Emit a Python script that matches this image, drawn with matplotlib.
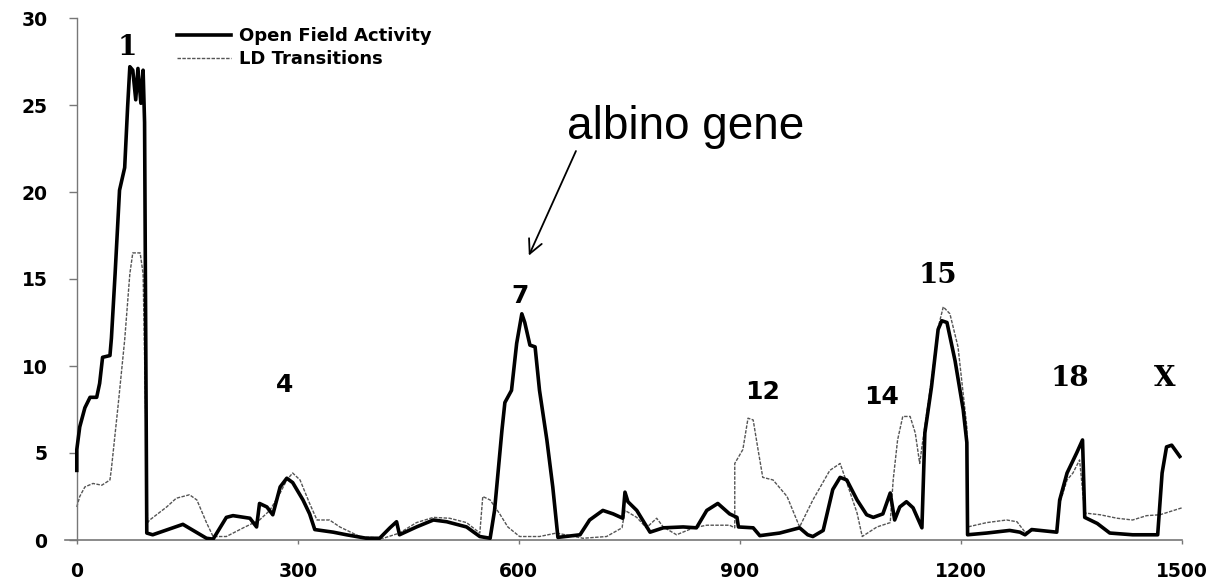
import matplotlib
matplotlib.use("Agg")
import matplotlib.pyplot as plt

# Open Field Activity (koyu siyah cizgi)
ofa_x = [0, 0, 4, 11, 18, 27, 31, 35, 45, 47, 52, 58, 65, 69, 72, 76, 80, 83, 87, 90, 92, 95,
         103, 144, 176, 185, 203, 212, 235, 244, 248, 258, 266, 276, 285, 293, 307, 316, 323,
         348, 366, 393, 411, 425, 434, 438, 461, 484, 502, 529, 547, 561,
         567, 577, 581, 590, 597, 604, 608, 615, 622, 628, 638, 646, 653,
         683, 696, 714, 728, 741, 744, 748, 760, 778, 796, 823, 841, 855, 870, 886, 896, 898,
         918, 927, 954, 981, 992, 999, 1013, 1026, 1036, 1045, 1059, 1072, 1081,
         1094, 1104, 1110, 1117, 1126, 1135, 1147, 1151, 1160, 1169, 1174, 1181, 1192, 1203,
         1208, 1209, 1235, 1266, 1280, 1287, 1296, 1330, 1334, 1344, 1357, 1365, 1368, 1385,
         1402, 1433, 1467, 1473, 1479, 1486, 1497]
ofa_y = [4.0, 5.2, 6.5, 7.6, 8.2, 8.2, 9.0, 10.5, 10.6, 11.6, 15.3, 20.1, 21.4, 24.9, 27.2, 27.0,
         25.3, 27.1, 25.1, 27.0, 24.0, 0.4,
         0.3, 0.9, 0.1, 0.05, 1.3, 1.4, 1.25, 0.75, 2.1, 1.9, 1.45, 3.05, 3.55, 3.3, 2.3, 1.5, 0.6,
         0.45, 0.3, 0.1, 0.1, 0.7, 1.05, 0.3, 0.75, 1.15, 1.05, 0.75, 0.2, 0.1,
         1.7, 6.3, 7.9, 8.6, 11.3, 13.0, 12.5, 11.2, 11.1, 8.6, 5.75, 3.05, 0.15,
         0.3, 1.15, 1.7, 1.5, 1.25, 2.75, 2.2, 1.7, 0.45, 0.7, 0.75, 0.7, 1.7, 2.1, 1.5, 1.3, 0.75,
         0.7, 0.25, 0.4, 0.7, 0.3, 0.2, 0.55, 2.9, 3.6, 3.45, 2.3, 1.45, 1.3,
         1.5, 2.7, 1.15, 1.9, 2.2, 1.85, 0.7, 6.15, 8.8, 12.1, 12.6, 12.5, 10.3, 7.5,
         5.6, 0.3, 0.4, 0.55, 0.45, 0.3, 0.6, 0.45, 2.3, 3.85, 5.0, 5.75, 1.3, 0.95,
         0.4, 0.3, 0.3, 3.85, 5.35, 5.45, 4.8]

# LD Transitions (ince kesikli gri cizgi)
ld_x = [0, 4, 11, 22, 34, 45, 47, 56, 65, 72, 76, 86, 90, 96,
        99, 122, 135, 153, 163, 176, 185, 203, 226, 248, 262, 276, 285, 293, 303, 316, 326,
        343, 357, 384, 416, 438, 461, 484, 506, 529, 547, 551, 561, 574, 585, 601, 628, 651,
        687, 719, 740, 744, 760, 773, 787, 796, 814, 837, 855, 886, 893, 893, 904, 911, 918,
        924, 931, 945, 964, 981, 999, 1022, 1036, 1045, 1059, 1066, 1086, 1104, 1108, 1114,
        1121, 1131, 1138, 1144, 1147, 1160, 1169, 1176, 1185, 1196, 1208, 1209, 1235, 1262,
        1276, 1287, 1298, 1330, 1334, 1344, 1352, 1361, 1368, 1389, 1412, 1433, 1452, 1470, 1500]
ld_y = [1.9, 2.5, 3.05, 3.25, 3.15, 3.45, 4.1, 7.7, 11.5, 15.3, 16.5, 16.5, 15.3, 1.0,
        1.15, 1.9, 2.4, 2.6, 2.3, 1.0, 0.2, 0.2, 0.7, 1.15, 1.7, 2.7, 3.45, 3.85, 3.45, 2.1, 1.15,
        1.15, 0.75, 0.2, 0.1, 0.4, 1.0, 1.3, 1.25, 1.0, 0.4, 2.5, 2.3, 1.5, 0.75, 0.2, 0.2, 0.4,
        0.1, 0.2, 0.7, 1.7, 1.3, 0.7, 1.25, 0.75, 0.3, 0.7, 0.85, 0.85, 0.7, 4.4, 5.2, 7.0, 6.9,
        5.35, 3.6, 3.45, 2.5, 0.75, 2.3, 4.0, 4.4, 3.3, 1.55, 0.2, 0.75, 1.0, 3.45, 5.75,
        7.1, 7.1, 6.15, 4.4, 5.35, 9.2, 12.2, 13.4, 13.0, 11.1, 6.5, 0.75, 1.0, 1.15,
        1.05, 0.45, 0.55, 0.45, 2.1, 3.45, 3.85, 4.6, 1.55, 1.45, 1.25, 1.15, 1.4, 1.45, 1.85]

# Kromozom etiketleri
chr_labels = ["1", "4", "7", "12", "14", "15", "18", "X"]
chr_x = [69, 282, 601, 931, 1092, 1168, 1348, 1476]
chr_y = [28.3, 8.9, 14.0, 8.5, 8.2, 15.2, 9.3, 9.3]
chr_serif = [True, False, False, False, False, True, True, True]

x_ticks = [0, 300, 600, 900, 1200, 1500]
y_ticks = [0, 5, 10, 15, 20, 25, 30]

fig = plt.figure(figsize=(12.21, 5.82), dpi=100)
ax = fig.add_axes([65 / 1221, 42 / 582, (1182 - 65) / 1221, (540 - 18) / 582])

ax.plot(ofa_x, ofa_y, color="black", lw=2.6, label="Open Field Activity", zorder=3)
ax.plot(ld_x, ld_y, color="#555555", lw=1.0, linestyle=(0, (2.5, 1)), label="LD Transitions", zorder=2)

ax.set_xlim(-16, 1500)
ax.set_ylim(0, 30)

for s in ["top", "right"]:
    ax.spines[s].set_visible(False)
ax.spines["left"].set_position(("data", 0))
ax.spines["left"].set_color("#777777")
ax.spines["bottom"].set_color("#777777")
ax.spines["left"].set_linewidth(1.0)
ax.spines["bottom"].set_linewidth(1.2)

ax.set_xticks(x_ticks)
ax.set_yticks(y_ticks)
ax.tick_params(axis="y", direction="out", length=6, width=1, color="#777777", pad=15)
ax.tick_params(axis="x", direction="out", length=3, width=1, color="#777777", pad=13)
for lab in ax.get_xticklabels() + ax.get_yticklabels():
    lab.set_fontfamily("DejaVu Sans")
    lab.set_fontweight("bold")
    lab.set_fontsize(13.5)

for t, x, y, serif in zip(chr_labels, chr_x, chr_y, chr_serif):
    ax.text(x, y, t, ha="center", va="center", fontweight="bold",
            fontfamily="DejaVu Serif" if serif else "DejaVu Sans",
            fontsize=20 if serif else 18)

# albino gen notu
ax.text(665, 23.05, "albino gene", fontfamily="Liberation Sans", fontsize=33,
        ha="left", va="baseline")
ax.annotate("", xy=(612, 16.2), xytext=(679, 22.5),
            arrowprops=dict(arrowstyle="->", lw=1.3, color="black", mutation_scale=25))

leg = ax.legend(loc="upper left", bbox_to_anchor=(177 / 1221, (582 - 27) / 582),
                bbox_transform=fig.transFigure, frameon=False, borderpad=0,
                borderaxespad=0, handlelength=3.0, handletextpad=0.45, labelspacing=0.3,
                prop={"family": "DejaVu Sans", "weight": "bold", "size": 13})

fig.savefig("out.png", dpi=100)
